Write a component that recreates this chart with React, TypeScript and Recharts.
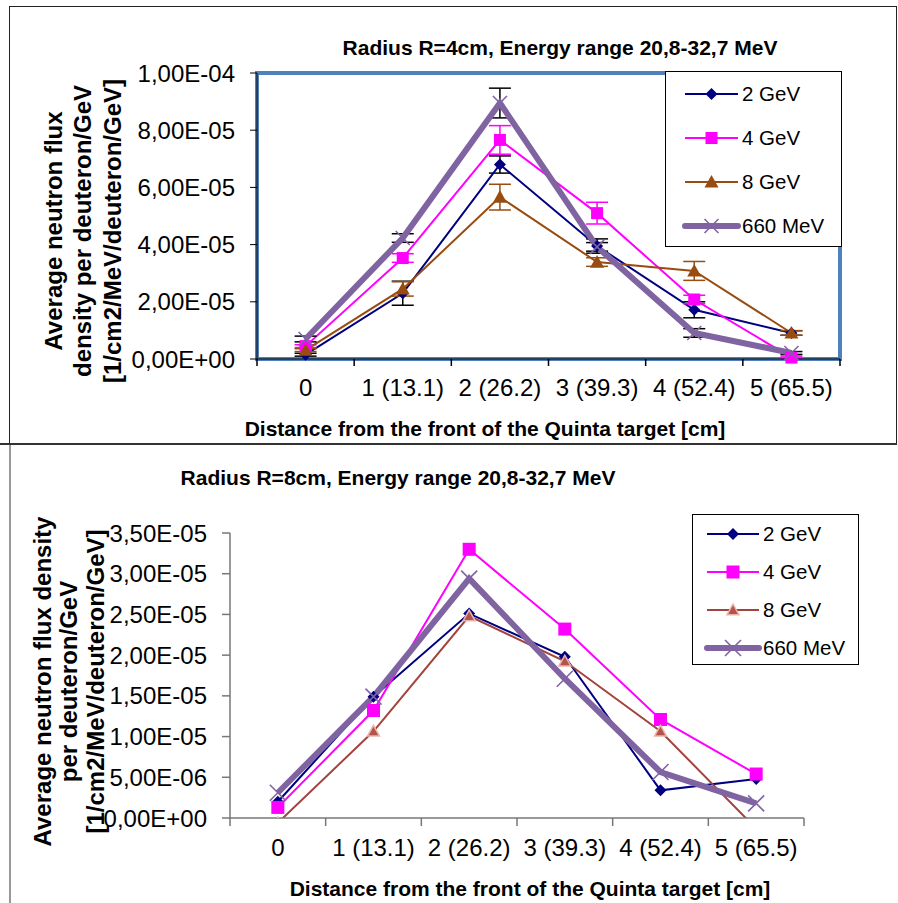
import React from 'react';
import { LineChart, Line, XAxis, YAxis, Legend, ErrorBar, ReferenceArea, Label } from 'recharts';

const FONT = '"Liberation Sans", Arial, sans-serif';

const categories = ['0', '1 (13.1)', '2 (26.2)', '3 (39.3)', '4 (52.4)', '5 (65.5)'];
const seriesNames = ['2 GeV', '4 GeV', '8 GeV', '660 MeV'];

// Radius R=4cm
const r4_2GeV = [1.5e-6, 2.3e-5, 6.8e-5, 3.95e-5, 1.72e-5, 9.1e-6];
const r4_4GeV = [4.5e-6, 3.53e-5, 7.66e-5, 5.1e-5, 2.08e-5, 5e-7];
const r4_8GeV = [3.1e-6, 2.45e-5, 5.66e-5, 3.39e-5, 3.08e-5, 9.1e-6];
const r4_660MeV = [7e-6, 4.23e-5, 8.95e-5, 3.92e-5, 9.1e-6, 2.1e-6];
// error bars (+/-)
const r4_err2GeV = [5e-7, 4.2e-6, 3e-6, 2.5e-6, 2.8e-6, 8e-7];
const r4_err4GeV = [5e-7, 1.5e-6, 5e-6, 3.8e-6, 1.5e-6, 5e-7];
const r4_err8GeV = [5e-7, 2.5e-6, 4.5e-6, 1.5e-6, 3.3e-6, 8e-7];
const r4_err660MeV = [1e-6, 1.5e-6, 5.2e-6, 1.5e-6, 1.5e-6, 5e-7];
const r4Ticks = [0, 2e-5, 4e-5, 6e-5, 8e-5, 1e-4];

// Radius R=8cm
const r8_2GeV = [2e-6, 1.49e-5, 2.51e-5, 1.98e-5, 3.4e-6, 4.8e-6];
const r8_4GeV = [1.3e-6, 1.32e-5, 3.3e-5, 2.32e-5, 1.21e-5, 5.4e-6];
const r8_8GeV = [-6e-7, 1.065e-5, 2.48e-5, 1.925e-5, 1.065e-5, -1.3e-6];
const r8_660MeV = [3.1e-6, 1.49e-5, 2.94e-5, 1.71e-5, 5.65e-6, 1.8e-6];
const r8Ticks = [0, 5e-6, 1e-5, 1.5e-5, 2e-5, 2.5e-5, 3e-5, 3.5e-5];

const r4Data = categories.map((cat, i) => ({
  cat,
  s0: r4_2GeV[i], s1: r4_4GeV[i], s2: r4_8GeV[i], s3: r4_660MeV[i],
  e0: r4_err2GeV[i], e1: r4_err4GeV[i], e2: r4_err8GeV[i], e3: r4_err660MeV[i],
}));

const r8Data = categories.map((cat, i) => ({
  cat,
  s0: r8_2GeV[i], s1: r8_4GeV[i], s2: r8_8GeV[i], s3: r8_660MeV[i],
}));

type Series = {
  key: string; color: string; width: number; shape: string;
  size: number; fill: string; stroke?: string; err?: string;
};

const r4Series: Series[] = [
  { key: 's0', color: '#000080', width: 2, shape: 'diamond', size: 6, fill: '#000080', err: '#000' },
  { key: 's1', color: '#FF00FF', width: 2, shape: 'square', size: 6, fill: '#FF00FF', err: '#FF00FF' },
  { key: 's2', color: '#994C0F', width: 2, shape: 'triangle', size: 7, fill: '#994C0F', err: '#994C0F' },
  { key: 's3', color: '#8064A2', width: 6, shape: 'x', size: 7, fill: 'none', stroke: '#8064A2', err: '#000' },
];

const r8Series: Series[] = [
  { key: 's0', color: '#000080', width: 2, shape: 'diamond', size: 6, fill: '#000080' },
  { key: 's1', color: '#FF00FF', width: 2, shape: 'square', size: 6.5, fill: '#FF00FF' },
  { key: 's2', color: '#A3433D', width: 2, shape: 'triangle', size: 6, fill: '#B5524A', stroke: '#E8B4AE' },
  { key: 's3', color: '#8064A2', width: 6, shape: 'x', size: 8, fill: 'none', stroke: '#8064A2' },
];

const sci = (v: number) => {
  if (v === 0) return '0,00E+00';
  const [m, e] = v.toExponential(2).split('e');
  const n = parseInt(e, 10);
  return m.replace('.', ',') + 'E' + (n < 0 ? '-' : '+') + String(Math.abs(n)).padStart(2, '0');
};

function Marker({ s, cx, cy }: { s: Series; cx: number; cy: number }) {
  const r = s.size;
  if (s.shape === 'diamond') {
    return <polygon points={`${cx},${cy - r} ${cx + r},${cy} ${cx},${cy + r} ${cx - r},${cy}`} fill={s.fill} />;
  }
  if (s.shape === 'square') {
    return <rect x={cx - r} y={cy - r} width={2 * r} height={2 * r} fill={s.fill} />;
  }
  if (s.shape === 'triangle') {
    return (
      <polygon
        points={`${cx},${cy - r} ${cx + r},${cy + r * 0.8} ${cx - r},${cy + r * 0.8}`}
        fill={s.fill}
        stroke={s.stroke || 'none'}
        strokeWidth={1.5}
      />
    );
  }
  return (
    <path
      d={`M${cx - r},${cy - r}L${cx + r},${cy + r}M${cx + r},${cy - r}L${cx - r},${cy + r}`}
      stroke={s.stroke}
      strokeWidth={1.6}
      fill="none"
    />
  );
}

// category labels in the middle of each band, tick marks on the band edges
const BandTick = (props: any) => {
  const { x, y, payload, index, visibleTicksCount, width, color, len, gap } = props;
  const step = width / visibleTicksCount;
  const axisY = y - gap;
  const left = x - step / 2;
  return (
    <g>
      <line x1={left} x2={left} y1={axisY} y2={axisY + len} stroke={color} strokeWidth={1.5} />
      {index === visibleTicksCount - 1 && (
        <line x1={left + step} x2={left + step} y1={axisY} y2={axisY + len} stroke={color} strokeWidth={1.5} />
      )}
      <text x={x} y={y} dy="0.71em" textAnchor="middle" fontSize={24} fill="#000" fontFamily={FONT}>
        {payload.value}
      </text>
    </g>
  );
};

const makeLegend = (series: Series[], box: any) => (props: any) => {
  const payload = props.payload || [];
  return (
    <div
      style={{
        width: box.w, height: box.h, border: '1px solid #000', background: '#fff',
        boxSizing: 'border-box', position: 'relative', fontFamily: FONT,
      }}
    >
      {payload.map((entry: any, i: number) => {
        const s = series.find((d) => d.key === entry.dataKey) || series[i];
        const idx = series.indexOf(s);
        const cy = box.firstY + idx * box.stepY;
        return (
          <div
            key={s.key}
            style={{ position: 'absolute', left: 0, top: cy - 12, height: 24, display: 'flex', alignItems: 'center' }}
          >
            <svg width={box.textX} height={24} style={{ display: 'block' }}>
              <line
                x1={box.x0} x2={box.x1} y1={12} y2={12}
                stroke={s.color} strokeWidth={s.width}
                strokeLinecap={s.width > 3 ? 'round' : 'butt'}
              />
              <Marker s={s} cx={(box.x0 + box.x1) / 2} cy={12} />
            </svg>
            <span style={{ fontSize: 20.5, color: '#000', whiteSpace: 'nowrap' }}>{entry.value}</span>
          </div>
        );
      })}
    </div>
  );
};

const yLabel = (lines: string[], xs: number[], dy: number) => (props: any) => {
  const vb = props.viewBox || { x: 0, y: 0, width: 0, height: 0 };
  const cy = vb.y + vb.height / 2 + dy;
  return (
    <g>
      {lines.map((t, i) => (
        <text
          key={t}
          x={vb.x + xs[i]}
          y={cy}
          transform={`rotate(-90 ${vb.x + xs[i]} ${cy})`}
          textAnchor="middle"
          fontSize={24}
          fontWeight="bold"
          fill="#000"
          fontFamily={FONT}
        >
          {t}
        </text>
      ))}
    </g>
  );
};

const xLabel = (text: string, dx: number, dy: number) => (props: any) => {
  const vb = props.viewBox || { x: 0, y: 0, width: 0, height: 0 };
  return (
    <text
      x={vb.x + vb.width / 2 + dx}
      y={vb.y + dy}
      textAnchor="middle"
      fontSize={21}
      fontWeight="bold"
      fill="#000"
      fontFamily={FONT}
    >
      {text}
    </text>
  );
};

const xTitle = 'Distance from the front of the Quinta target [cm]';

function TopChart() {
  return (
    <LineChart width={898} height={445} data={r4Data} margin={{ top: 73, right: 58, bottom: 0, left: 0 }} style={{ fontFamily: FONT }}>
      <ReferenceArea
        x1={categories[0]}
        x2={categories[categories.length - 1]}
        y1={r4Ticks[0]}
        y2={r4Ticks[r4Ticks.length - 1]}
        ifOverflow="visible"
        fill="none"
        fillOpacity={0}
        stroke="#4F81BD"
        strokeWidth={4}
      />
      <XAxis
        dataKey="cat"
        scale="band"
        interval={0}
        height={86}
        tickSize={7}
        tickMargin={13}
        tickLine={false}
        axisLine={{ stroke: '#000' }}
        tick={(p: any) => <BandTick {...p} color="#000" len={7} gap={20} />}
      >
        <Label content={xLabel(xTitle, -63.5, 76.5)} />
      </XAxis>
      <YAxis
        width={257}
        domain={[0, 1e-4]}
        ticks={r4Ticks}
        tickFormatter={sci}
        tickSize={7}
        tickMargin={15}
        tick={{ fontSize: 24, fill: '#000', fontFamily: FONT }}
        axisLine={{ stroke: '#000' }}
        tickLine={{ stroke: '#000' }}
      >
        <Label
          content={yLabel(
            ['Average  neutron flux', 'density per deuteron/GeV', '[1/cm2/MeV/deuteron/GeV]'],
            [61.5, 90.5, 120.5],
            15,
          )}
        />
      </YAxis>
      <Legend
        layout="vertical"
        align="center"
        verticalAlign="middle"
        itemSorter="dataKey"
        wrapperStyle={{ top: 71, left: 665 }}
        content={makeLegend(r4Series, { w: 177, h: 176, firstY: 22, stepY: 44, x0: 19, x1: 72, textX: 76 })}
      />
      {r4Series.map((s, i) => (
        <Line
          key={s.key}
          name={seriesNames[i]}
          dataKey={s.key}
          type="linear"
          stroke={s.color}
          strokeWidth={s.width}
          isAnimationActive={false}
          activeDot={false}
          dot={(p: any) => <Marker key={`${s.key}-${p.index}`} s={s} cx={p.cx} cy={p.cy} />}
        >
          <ErrorBar dataKey={'e' + i} width={11} stroke={s.err} strokeWidth={1.5} direction="y" />
        </Line>
      ))}
    </LineChart>
  );
}

function BottomChart() {
  return (
    <LineChart width={898} height={458} data={r8Data} margin={{ top: 88, right: 94, bottom: 0, left: 0 }} style={{ fontFamily: FONT }}>
      <XAxis
        dataKey="cat"
        scale="band"
        interval={0}
        height={85}
        tickSize={8}
        tickMargin={13}
        tickLine={false}
        axisLine={{ stroke: '#777', strokeWidth: 1.5 }}
        tick={(p: any) => <BandTick {...p} color="#777" len={8} gap={21} />}
      >
        <Label content={xLabel(xTitle, 13, 77.5)} />
      </XAxis>
      <YAxis
        width={230}
        domain={[0, 3.5e-5]}
        allowDataOverflow
        ticks={r8Ticks}
        tickFormatter={sci}
        tickSize={8}
        tickMargin={15}
        tick={{ fontSize: 24, fill: '#000', fontFamily: FONT }}
        axisLine={{ stroke: '#777', strokeWidth: 1.5 }}
        tickLine={{ stroke: '#777', strokeWidth: 1.5 }}
      >
        <Label
          content={yLabel(
            ['Average neutron flux density', 'per deuteron/GeV', '[1/cm2/MeV/deuteron/GeV]'],
            [50.5, 76.5, 103.5],
            6,
          )}
        />
      </YAxis>
      <Legend
        layout="vertical"
        align="center"
        verticalAlign="middle"
        itemSorter="dataKey"
        wrapperStyle={{ top: 69, left: 692 }}
        content={makeLegend(r8Series, { w: 167, h: 151, firstY: 19, stepY: 38, x0: 14, x1: 66, textX: 70 })}
      />
      {r8Series.map((s, i) => (
        <Line
          key={s.key}
          name={seriesNames[i]}
          dataKey={s.key}
          type="linear"
          stroke={s.color}
          strokeWidth={s.width}
          isAnimationActive={false}
          activeDot={false}
          dot={(p: any) => <Marker key={`${s.key}-${p.index}`} s={s} cx={p.cx} cy={p.cy} />}
        />
      ))}
    </LineChart>
  );
}

const titleStyle: React.CSSProperties = {
  position: 'absolute', width: 600, textAlign: 'center', fontFamily: FONT,
  fontSize: 21, fontWeight: 'bold', lineHeight: '24px', color: '#000', whiteSpace: 'nowrap',
};

export default function App() {
  return (
    <div style={{ position: 'absolute', left: 0, top: 0, width: 898, height: 903, background: '#fff', overflow: 'hidden' }}>
      <div style={{ position: 'absolute', left: 0, top: 0 }}>
        <TopChart />
      </div>
      <div style={{ position: 'absolute', left: 0, top: 445 }}>
        <BottomChart />
      </div>
      <div style={{ ...titleStyle, left: 560 - 300, top: 36 }}>Radius R=4cm, Energy range 20,8-32,7 MeV</div>
      <div style={{ ...titleStyle, left: 398 - 300, top: 466 }}>Radius R=8cm, Energy range 20,8-32,7 MeV</div>
      {/* frames */}
      <div style={{ position: 'absolute', left: 9, top: 6, width: 888, height: 438, borderTop: '1.5px solid #222', borderLeft: '1.5px solid #222', borderRight: '1.5px solid #222', boxSizing: 'border-box' }} />
      <div style={{ position: 'absolute', left: 0, top: 443, width: 897, height: 2, background: '#333' }} />
      <div style={{ position: 'absolute', left: 9, top: 445, width: 1.5, height: 458, background: '#999' }} />
    </div>
  );
}
